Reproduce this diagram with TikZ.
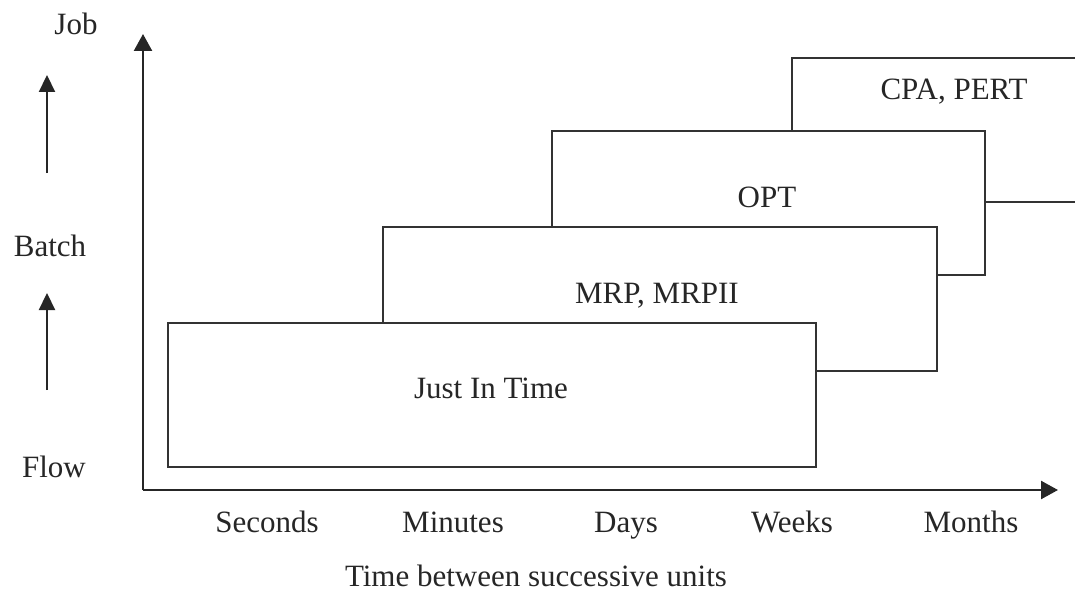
\documentclass[tikz,border=0pt]{standalone}
\usepackage{fontspec}
\setmainfont{Liberation Serif}
\usetikzlibrary{arrows.meta}
\begin{document}
\begin{tikzpicture}[x=1pt,y=-1pt,
  boxline/.style={draw=black!80,line width=1.6pt},
  stage/.style={boxline,fill=white,rectangle,inner sep=0pt,anchor=north west},
  lbl/.style={font=\fontsize{31}{37}\selectfont,anchor=base,inner sep=0pt,text=black!85},
  axis/.style={draw=black!85,line width=2.4pt,-{Triangle[width=18pt,length=17pt]}},
  uparrow/.style={draw=black!85,line width=2.2pt,-{Triangle[width=16pt,length=17pt]}}]
\useasboundingbox (0,0) rectangle (1075,591);
% CPA, PERT box (runs off the right edge)
\coordinate (cpaA) at (1075,58);
\coordinate (cpaB) at (792,58);
\coordinate (cpaC) at (792,202);
\coordinate (cpaD) at (1075,202);
\draw[boxline] (cpaA) -- (cpaB) -- (cpaC) -- (cpaD);
% stacked boxes
\node[stage,minimum width=433pt,minimum height=144pt] (opt) at (551,130) {};
\node[stage,minimum width=554pt,minimum height=144pt] (mrp) at (382,226) {};
\node[stage,minimum width=648pt,minimum height=144pt] (jit) at (167,322) {};
% labels in boxes
\node[lbl] (tcpa) at (954,100) {CPA, PERT};
\node[lbl] (topt) at (767,207) {OPT};
\node[lbl] (tmrp) at (657,303) {MRP, MRPII};
\node[lbl] (tjit) at (491,398) {Just In Time};
% axes
\coordinate (origin) at (143,490);
\coordinate (xend) at (1058,490);
\coordinate (yend) at (143,34);
\draw[axis] (origin) -- (xend);
\draw[axis] (origin) -- (yend);
% left scale
\node[lbl] (job) at (76,35) {Job};
\node[lbl] (batch) at (50,256) {Batch};
\node[lbl] (flow) at (54,477) {Flow};
\coordinate (a1s) at (47,173);
\coordinate (a1e) at (47,75);
\coordinate (a2s) at (47,390);
\coordinate (a2e) at (47,293);
\draw[uparrow] (a1s) -- (a1e);
\draw[uparrow] (a2s) -- (a2e);
% bottom scale
\node[lbl] (sec) at (267,532) {Seconds};
\node[lbl] (min) at (453,532) {Minutes};
\node[lbl] (day) at (626,532) {Days};
\node[lbl] (wk) at (792,532) {Weeks};
\node[lbl] (mon) at (971,532) {Months};
\node[lbl,text depth=0pt] (xt) at (536,586) {Time between successive units};
\end{tikzpicture}
\end{document}
